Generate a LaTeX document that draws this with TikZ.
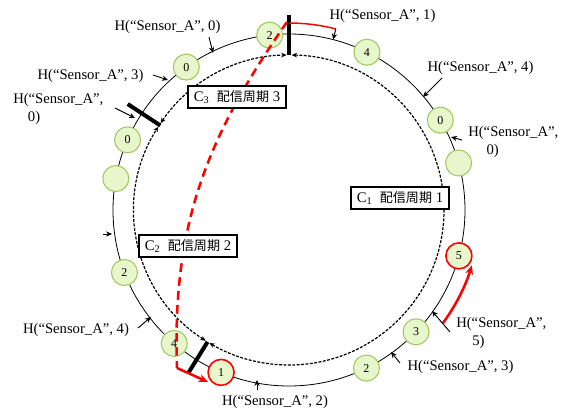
\documentclass[tikz,border=0pt]{standalone}
\usepackage{fontspec}
\setmainfont{Liberation Serif}
\newfontfamily\jpfont{Noto Sans CJK JP}
\usetikzlibrary{arrows.meta, positioning, calc}
\definecolor{slotfill}{RGB}{232,246,204}
\definecolor{slotdraw}{RGB}{160,200,95}
\definecolor{hotred}{RGB}{255,0,0}
\newcommand{\cycletext}[1]{C\textsubscript{#1}\enspace{\jpfont\fontsize{9.8}{12}\selectfont 配信周期}\ #1}

\begin{document}
\begin{tikzpicture}[
    x=0.75pt, y=0.75pt,
    % Node styles
    slot/.style={
        circle,
        draw=slotdraw,
        line width=0.8pt,
        fill=slotfill,
        minimum size=19.5pt,
        inner sep=0pt,
        font=\fontsize{9}{10}\selectfont
    },
    hotslot/.style={
        slot,
        draw=hotred,
        line width=1.2pt
    },
    cyclebox/.style={
        rectangle,
        draw=black,
        line width=1.3pt,
        fill=white,
        minimum width=73pt,
        minimum height=17pt,
        inner xsep=4pt,
        inner ysep=2pt,
        font=\fontsize{11}{12}\selectfont
    },
    hashlabel/.style={
        inner sep=0pt,
        font=\fontsize{11}{13.5}\selectfont
    },
    pointer/.style={
        -{Stealth[length=4.5pt, width=4pt]},
        line width=0.7pt,
        black
    },
    cutbar/.style={
        line width=3pt,
        black
    },
    cyclearc/.style={
        {Stealth[length=4pt, width=3.5pt]}-{Stealth[length=4pt, width=3.5pt]},
        line width=0.9pt,
        dash pattern=on 2.2pt off 1.1pt
    },
    moveline/.style={
        hotred,
        line width=1.9pt
    }
]
\useasboundingbox (-289,-204) rectangle (284,210);

% --- Ring and delivery cycles ---
\draw[line width=0.6pt] (0,0) circle[radius=176];

\draw[cyclearc] (89:155) arc[start angle=89, end angle=-120.9, radius=155];      % C1
\draw[cyclearc] (237.5:155) arc[start angle=237.5, end angle=147.5, radius=155]; % C2
\draw[cyclearc] (145.9:155) arc[start angle=145.9, end angle=90.9, radius=155];  % C3

% --- Slots on the ring (clockwise from top) ---
\node[slot] (r2top) at (96.3:176) {2};
\node[slot] (r4top) at (63.7:176) {4};
\node[slot] (r0right) at (30.7:176) {0};
\node[slot] (rblankright) at (15.5:176) {};
\node[hotslot] (r5) at (-15.1:176) {5};
\node[slot] (r3) at (-43.8:176) {3};
\node[slot] (r2low) at (-63.9:176) {2};
\node[hotslot] (r1) at (-112.7:176) {1};
\node[slot] (r4low) at (-130.7:176) {4};
\node[slot] (r2left) at (200.8:176) {2};
\node[slot] (rblankleft) at (169.7:176) {};
\node[slot] (r0left) at (156.5:176) {0};
\node[slot] (r0upper) at (125.7:176) {0};

% --- Cycle boundaries ---
\coordinate (cuttopin) at (90:155);
\coordinate (cuttopout) at (90:195);
\coordinate (cutleftin) at (146.7:154);
\coordinate (cutleftout) at (146.7:193);
\coordinate (cutlowin) at (238.3:155);
\coordinate (cutlowout) at (238.3:191);
\draw[cutbar] (cuttopin) -- (cuttopout);
\draw[cutbar] (cutleftin) -- (cutleftout);
\draw[cutbar] (cutlowin) -- (cutlowout);

% --- Moves ---
\coordinate (jumpstart) at (-2,188);
\coordinate (jumpend) at (-112,-158);
\coordinate (jumptip) at (-81,-172);
\draw[moveline, dash pattern=on 6.5pt off 4pt]
    (jumpstart) .. controls (-83,72) and (-117,-16) .. (jumpend);
\draw[moveline, -{Stealth[length=7pt, width=6pt]}] (jumpend) -- (jumptip);

\draw[hotred, line width=1.1pt] (90:187) arc[start angle=90, end angle=75.5, radius=187];
\draw[moveline, -{Stealth[length=7pt, width=6pt]}]
    (-36.3:191) arc[start angle=-36.3, end angle=-16.8, radius=191];

% --- Cycle labels ---
\node[cyclebox] (cycle3) at (-52,113) {\cycletext{3}};
\node[cyclebox] (cycle1) at (111,12) {\cycletext{1}};
\node[cyclebox] (cycle2) at (-101,-36) {\cycletext{2}};

% --- Hash labels ---
\node[hashlabel] (h0top) at (-121.5,183) {H(“Sensor\_A”, 0)};
\node[hashlabel] (h3top) at (-198.5,134) {H(“Sensor\_A”, 3)};
\node[hashlabel, anchor=west, align=left] (h0left) at (-276,101) {H(“Sensor\_A”,\\\hspace*{1em}0)};
\node[hashlabel] (h1top) at (93.5,194) {H(“Sensor\_A”, 1)};
\node[hashlabel] (h4top) at (191.5,142) {H(“Sensor\_A”, 4)};
\node[hashlabel, anchor=west, align=left] (h0right) at (179,68) {H(“Sensor\_A”,\\\hspace*{1.25em}0)};
\node[hashlabel, anchor=west, align=left] (h5right) at (167,-123) {H(“Sensor\_A”,\\\hspace*{1.1em}5)};
\node[hashlabel] (h3low) at (171.5,-157) {H(“Sensor\_A”, 3)};
\node[hashlabel] (h2low) at (-14,-192) {H(“Sensor\_A”, 2)};
\node[hashlabel] (h4low) at (-213,-120) {H(“Sensor\_A”, 4)};

% --- Pointers onto the ring ---
\coordinate (f0top) at (-80,173);    \coordinate (t0top) at (-76,157);
\coordinate (f3top) at (-136,135);   \coordinate (t3top) at (-121,130);
\coordinate (f0left) at (-174,102);  \coordinate (t0left) at (-154,92);
\coordinate (f1top) at (75.5:187);   \coordinate (t1top) at (75.5:176);
\coordinate (f4top) at (153,132);    \coordinate (t4top) at (134,113);
\coordinate (f0right) at (173,70);   \coordinate (t0right) at (162,73);
\coordinate (f5right) at (161,-122); \coordinate (t5right) at (143,-101);
\coordinate (f3low) at (111,-153);   \coordinate (t3low) at (102,-142);
\coordinate (f2low) at (-32,-180);   \coordinate (t2low) at (-32,-170);
\coordinate (f4low) at (-151,-118);  \coordinate (t4low) at (-138,-107);
\coordinate (fside) at (-186,-24);   \coordinate (tside) at (-177,-24);

\draw[pointer] (f0top) -- (t0top);
\draw[pointer] (f3top) -- (t3top);
\draw[pointer] (f0left) -- (t0left);
\draw[pointer] (f1top) -- (t1top);
\draw[pointer] (f4top) -- (t4top);
\draw[pointer] (f0right) -- (t0right);
\draw[pointer] (f5right) -- (t5right);
\draw[pointer] (f3low) -- (t3low);
\draw[pointer] (f2low) -- (t2low);
\draw[pointer] (f4low) -- (t4low);
\draw[pointer] (fside) -- (tside);

\end{tikzpicture}
\end{document}
